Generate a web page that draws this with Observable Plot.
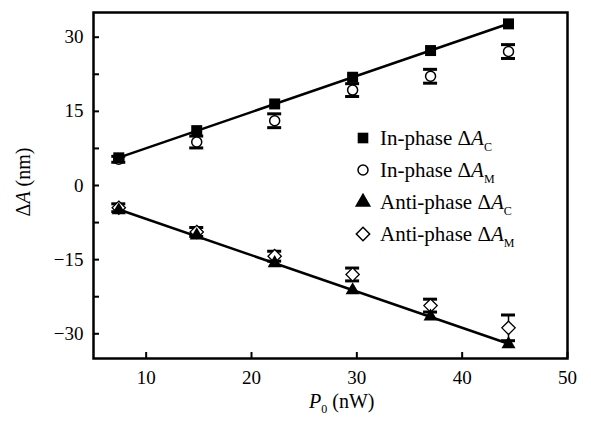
<!DOCTYPE html>
<html><head><meta charset="utf-8">
<script src="https://cdn.jsdelivr.net/npm/d3@7"></script>
<script src="https://cdn.jsdelivr.net/npm/@observablehq/plot@0.6"></script>
<style>body{margin:0;background:#fff} #chart{position:relative;width:591px;height:426px}
#chart svg, #chart svg text {font-family: "Liberation Serif", "Tinos", "Times New Roman", "DejaVu Serif", serif !important;}</style>
</head><body><div id="chart"></div>
<script>
const P0 = [7.4, 14.8, 22.2, 29.6, 37.0, 44.4];
const inPhaseC = [5.6, 11.1, 16.5, 21.9, 27.3, 32.7];
const inPhaseM = [5.3, 8.8, 13.1, 19.3, 22.1, 27.1];
const inPhaseMErr = [0.6, 1.2, 1.4, 1.3, 1.4, 1.4];
const antiPhaseC = [-5.0, -10.1, -15.7, -21.2, -26.5, -32.1];
const antiPhaseM = [-4.5, -9.4, -14.3, -18.0, -24.3, -28.8];
const antiPhaseMErr = [0.8, 0.9, 1.0, 1.3, 1.3, 2.6];
const xTicks = [10, 20, 30, 40, 50];
const yTicks = [-30, -15, 0, 15, 30];
const yMinorTicks = [-30, -22.5, -15, -7.5, 0, 7.5, 15, 22.5, 30];
const legendNames = ["In-phase ", "In-phase ", "Anti-phase ", "Anti-phase "];
const legendSubs = ["C", "M", "C", "M"];
const legendSymbols = ["square", "circle", "triangle", "diamond2"];

const rows = P0.map((p, i) => ({
  p, inC: inPhaseC[i], inM: inPhaseM[i], inE: inPhaseMErr[i],
  anC: antiPhaseC[i], anM: antiPhaseM[i], anE: antiPhaseMErr[i]
}));

const errMarks = (m, e) => [
  Plot.ruleX(rows, {x: "p", y1: d => d[m] - d[e], y2: d => d[m] + d[e], stroke: "black", strokeWidth: 1.5}),
  Plot.ruleY(rows, {y: d => d[m] + d[e], x1: "p", x2: "p", insetLeft: -7, insetRight: -7, stroke: "black", strokeWidth: 3}),
  Plot.ruleY(rows, {y: d => d[m] - d[e], x1: "p", x2: "p", insetLeft: -7, insetRight: -7, stroke: "black", strokeWidth: 3})
];

const chart = Plot.plot({
  width: 591, height: 426,
  marginLeft: 93, marginRight: 24, marginTop: 12, marginBottom: 68,
  style: {fontFamily: "'Liberation Serif', 'DejaVu Serif', serif", fontSize: "19px", background: "white", color: "black"},
  x: {domain: [5, 50], label: null},
  y: {domain: [-35, 35], label: null},
  marks: [
    Plot.axisX({ticks: xTicks, tickSize: -6, strokeWidth: 2, fill: "none", label: null}),
    Plot.axisX({ticks: xTicks, tickSize: 0, tickPadding: 12, label: null}),
    Plot.axisY({ticks: yMinorTicks, tickSize: -6, strokeWidth: 2, fill: "none", label: null}),
    Plot.axisY({ticks: yTicks, tickSize: 0, tickPadding: 10, label: null}),
    Plot.linearRegressionY(rows, {x: "p", y: "inC", ci: 0, stroke: "black", strokeWidth: 2.5}),
    Plot.linearRegressionY(rows, {x: "p", y: "anC", ci: 0, stroke: "black", strokeWidth: 2.5}),
    ...errMarks("inM", "inE"),
    ...errMarks("anM", "anE"),
    Plot.dot(rows, {x: "p", y: "inM", symbol: "circle", r: 5, fill: "white", stroke: "black", strokeWidth: 1.5}),
    Plot.dot(rows, {x: "p", y: "anM", symbol: "diamond2", r: 6, fill: "white", stroke: "black", strokeWidth: 1.3}),
    Plot.dot(rows, {x: "p", y: "inC", symbol: "square", r: 6.2, fill: "black", stroke: "none"}),
    Plot.dot(rows, {x: "p", y: "anC", symbol: "triangle", r: 5.2, fill: "black", stroke: "none"}),
    Plot.frame({stroke: "black", strokeWidth: 2.5})
  ]
});
document.getElementById("chart").appendChild(chart);

const svg = d3.select(chart);
// y axis title
const yl = svg.append("text").attr("transform", "translate(30,182) rotate(-90)")
  .attr("text-anchor", "middle").attr("font-size", 20);
yl.append("tspan").text("Δ");
yl.append("tspan").attr("font-style", "italic").text("A");
yl.append("tspan").text(" (nm)");
// x axis title
const xl = svg.append("text").attr("x", 309).attr("y", 408)
  .attr("text-anchor", "start").attr("font-size", 20);
xl.append("tspan").attr("font-style", "italic").text("P");
xl.append("tspan").attr("font-size", 12).attr("dy", 5).text("0");
xl.append("tspan").attr("dy", -5).text(" (nW)");
// legend
const symMap = {square: d3.symbolSquare, circle: d3.symbolCircle, triangle: d3.symbolTriangle, diamond2: d3.symbolDiamond2};
const lg = svg.append("g").attr("font-size", 21).attr("text-anchor", "start");
legendNames.forEach((name, i) => {
  const cy = 138 + i * 32;
  const s = legendSymbols[i];
  const filled = s === "square" || s === "triangle";
  const size = s === "circle" ? Math.PI * 5 * 5 : Math.PI * 6 * 6;
  lg.append("path").attr("d", d3.symbol(symMap[s], size)())
    .attr("transform", `translate(363,${cy})`)
    .attr("fill", filled ? "black" : "white").attr("stroke", filled ? "none" : "black").attr("stroke-width", 1.5);
  const t = lg.append("text").attr("x", 380).attr("y", cy + 7);
  t.append("tspan").text(name + "Δ");
  t.append("tspan").attr("font-style", "italic").text("A");
  t.append("tspan").attr("font-size", 12).attr("dy", 6).text(legendSubs[i]);
});
</script>
</body></html>
